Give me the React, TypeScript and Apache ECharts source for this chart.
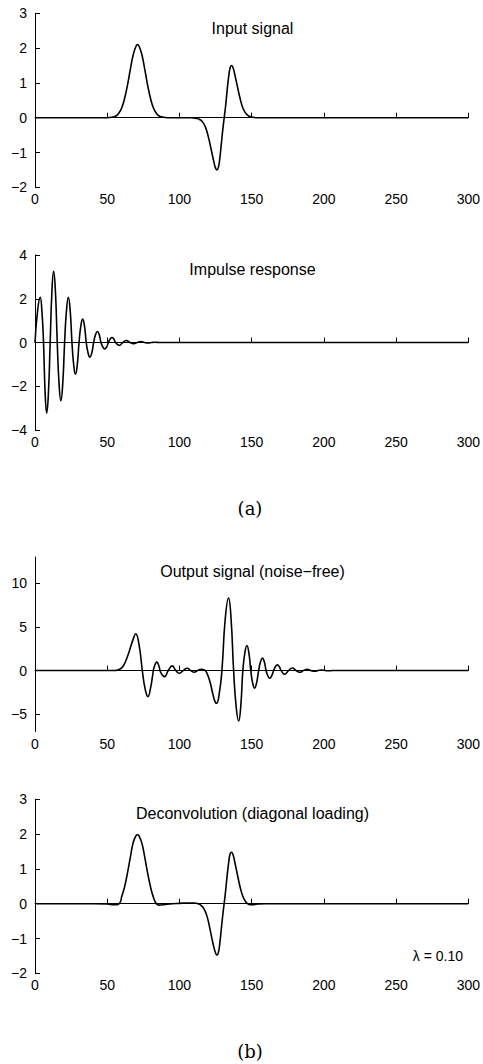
import React, { useEffect, useRef } from "react";
import * as echarts from "echarts";

// ---- data ----
const inputSignal: [number, number][] = [
  [0, 0], [50, 0], [54, 0.02], [56, 0.05], [58, 0.13], [60, 0.28], [62, 0.55], [64, 0.93], [66, 1.39],
  [68, 1.81], [70, 2.06], [71, 2.1], [72, 2.06], [74, 1.81], [76, 1.39], [78, 0.93], [80, 0.55],
  [82, 0.28], [84, 0.13], [86, 0.05], [88, 0.02], [92, 0], [108, 0], [112, -0.02], [114, -0.05],
  [116, -0.12], [118, -0.27], [120, -0.55], [122, -0.92], [124, -1.3], [125, -1.45], [126, -1.5],
  [127, -1.42], [128, -1.15], [129, -0.75], [130, -0.35], [131, 0], [132, 0.35], [133, 0.78],
  [134, 1.15], [135, 1.42], [136, 1.5], [137, 1.45], [138, 1.3], [140, 0.92], [142, 0.55],
  [144, 0.27], [146, 0.12], [148, 0.05], [150, 0.02], [154, 0], [300, 0],
];

const impulseResponse: [number, number][] = [
  [0, 0], [1.8, 1.46], [3.6, 2.07], [4.75, 1.47], [5.9, 0], [7.0, -2.29], [8.1, -3.23], [9.3, -2.29],
  [10.5, 0], [11.7, 2.31], [12.9, 3.25], [14.15, 2.31], [15.4, 0], [16.65, -1.89], [17.9, -2.66],
  [19.2, -1.89], [20.5, 0], [21.8, 1.47], [23.1, 2.07], [24.35, 1.47], [25.6, 0], [26.8, -1.03],
  [28, -1.45], [29.25, -1.03], [30.5, 0], [31.75, 0.76], [33, 1.07], [34.25, 0.76], [35.5, 0],
  [36.75, -0.48], [38, -0.67], [39.3, -0.48], [40.6, 0], [41.9, 0.36], [43.2, 0.5], [44.45, 0.36],
  [45.7, 0], [47, -0.21], [48.3, -0.29], [49.55, -0.21], [50.8, 0], [52.05, 0.16], [53.3, 0.23],
  [54.55, 0.16], [55.8, 0], [58.3, -0.13], [60.8, 0], [63.3, 0.09], [65.8, 0], [68.3, -0.05],
  [70.8, 0], [73.3, 0.04], [75.8, 0], [78.3, -0.02], [80.8, 0], [83.3, 0.01], [86, 0], [300, 0],
];

const outputSignal: [number, number][] = [
  [0, 0], [55, 0], [57, 0.05], [60, 0.3], [62, 0.8], [64, 1.6], [66, 2.6], [68, 3.6], [69.7, 4.21],
  [72, 2.99], [74.3, 0], [76.25, -2.1], [78.2, -2.98], [80, -2.0], [81.5, -0.5], [82.5, 0.4],
  [84.4, 0.96], [86, 0.4], [87, -0.2], [89.7, -0.69], [92.3, 0], [95, 0.54], [97.5, 0], [100, -0.3],
  [102.6, 0], [105.3, 0.27], [107.8, 0], [110.3, -0.19], [112.6, 0], [115, 0.15], [117.5, 0.05],
  [119, -0.3], [121, -1.2], [123, -2.6], [124.5, -3.5], [125.7, -3.75], [127.5, -2.7], [129.4, 0],
  [131.7, 5.9], [134, 8.31], [135.75, 5.9], [137.5, 0], [139.25, -4.1], [141, -5.78], [142.45, -4.1],
  [143.9, 0], [145.3, 2.04], [146.7, 2.87], [148.05, 2.04], [149.4, 0], [150.7, -1.43], [152, -2.02],
  [153.4, -1.43], [154.8, 0], [156.15, 1.0], [157.5, 1.42], [158.75, 1.0], [160, 0], [161.25, -0.62],
  [162.5, -0.88], [163.85, -0.62], [165.2, 0], [166.5, 0.46], [167.8, 0.65], [169.1, 0.46], [170.4, 0],
  [172.9, -0.42], [175.5, 0], [178.2, 0.3], [180.7, 0], [183.2, -0.2], [185.9, 0], [188.5, 0.13],
  [191, 0], [193.5, -0.08], [196, 0], [198.5, 0.05], [201, 0], [203.5, -0.03], [206, 0], [300, 0],
];

const deconvolution: [number, number][] = [
  [0, 0], [40, 0], [50, -0.01], [55, -0.03], [57, -0.03], [59, 0.04], [60, 0.2], [62, 0.48],
  [64, 0.88], [66, 1.33], [68, 1.76], [70, 1.96], [71, 1.98], [72, 1.95], [74, 1.74], [76, 1.33],
  [78, 0.88], [80, 0.48], [82, 0.18], [84, 0.0], [86, -0.04], [90, -0.02], [95, 0], [100, 0.01],
  [105, 0.02], [110, 0.02], [113, 0], [115, -0.05], [117, -0.15], [119, -0.35], [121, -0.7],
  [123, -1.1], [125, -1.42], [126, -1.48], [127, -1.4], [128, -1.12], [129, -0.72], [130, -0.33],
  [131, 0.02], [132, 0.38], [133, 0.8], [134, 1.15], [135, 1.42], [136, 1.48], [137, 1.42],
  [138, 1.26], [140, 0.86], [142, 0.48], [144, 0.2], [146, 0.05], [148, -0.02], [150, -0.03],
  [154, -0.01], [160, 0], [300, 0],
];

const titles = [
  "Input signal",
  "Impulse response",
  "Output signal (noise\u2212free)",
  "Deconvolution (diagonal loading)",
];
const xTicks = [0, 50, 100, 150, 200, 250, 300];
const yTicks1 = [-2, -1, 0, 1, 2, 3];
const yTicks2 = [-4, -2, 0, 2, 4];
const yTicks3 = [-5, 0, 5, 10];
const yTicks4 = [-2, -1, 0, 1, 2, 3];
const yRanges: [number, number][] = [[-2, 3], [-4, 4], [-7, 13], [-2, 3]];
const lambdaLabel = "\u03bb = 0.10";
const panelLabels = ["(a)", "(b)"];

const FONT = "'Liberation Sans', Arial, Helvetica, sans-serif";

export default function App() {
  const ref = useRef<HTMLDivElement>(null);
  useEffect(() => {
    if (!ref.current) return;
    const chart = echarts.init(ref.current, null, { renderer: "svg" });
    const grids = [
      { left: 35, top: 13.3, width: 435, height: 174 },
      { left: 35, top: 255, width: 435, height: 175 },
      { left: 35, top: 557, width: 435, height: 174.7 },
      { left: 35, top: 799.3, width: 435, height: 174 },
    ];
    const series = [inputSignal, impulseResponse, outputSignal, deconvolution];
    const yTicks = [yTicks1, yTicks2, yTicks3, yTicks4];
    const fmt = (v: number) => (v < 0 ? "\u2212" + Math.abs(v) : String(v));
    const axisLine = { show: true, lineStyle: { color: "#000", width: 1 } };
    const tick = { show: true, inside: true, length: 5, lineStyle: { color: "#000", width: 1 } };

    const option: any = {
      animation: false,
      backgroundColor: "#fff",
      grid: grids.map((g) => ({ ...g, containLabel: false })),
      xAxis: grids.map((_, i) => ({
        type: "value",
        gridIndex: i,
        min: 0,
        max: 300,
        interval: 50,
        axisLine,
        axisTick: { ...tick, customValues: xTicks },
        axisLabel: {
          customValues: xTicks,
          color: "#000",
          fontFamily: FONT,
          fontSize: 14,
          margin: 5,
          showMinLabel: true,
          showMaxLabel: true,
        },
        splitLine: { show: false },
      })),
      yAxis: grids.map((_, i) => ({
        type: "value",
        gridIndex: i,
        min: yRanges[i][0],
        max: yRanges[i][1],
        axisLine,
        axisTick: { ...tick, customValues: yTicks[i] },
        axisLabel: {
          customValues: yTicks[i],
          formatter: fmt,
          color: "#000",
          fontFamily: FONT,
          fontSize: 14,
          margin: 8,
        },
        splitLine: { show: false },
      })),
      series: series.map((d, i) => ({
        type: "line",
        xAxisIndex: i,
        yAxisIndex: i,
        data: d,
        smooth: 0.5,
        showSymbol: false,
        symbol: "none",
        lineStyle: { color: "#000", width: 1.6 },
        silent: true,
      })),
      graphic: [
        ...titles.map((t, i) => ({
          type: "text",
          x: 252.5,
          y: [28, 269, 571.7, 813.3][i],
          style: {
            text: t,
            fill: "#000",
            font: `16px ${FONT}`,
            textAlign: "center",
            textVerticalAlign: "middle",
          },
        })),
        {
          type: "text",
          x: 463,
          y: 956,
          style: {
            text: lambdaLabel,
            fill: "#000",
            font: `14px ${FONT}`,
            textAlign: "right",
            textVerticalAlign: "middle",
          },
        },
        ...panelLabels.map((t, i) => ({
          type: "text",
          x: 250,
          y: [508, 1051][i],
          style: {
            text: t,
            fill: "#000",
            font: `18px 'DejaVu Serif', serif`,
            textAlign: "center",
            textVerticalAlign: "middle",
          },
        })),
      ],
    };
    chart.setOption(option);
    return () => chart.dispose();
  }, []);
  return (
    <div
      ref={ref}
      style={{ position: "absolute", left: 0, top: 0, width: 483, height: 1064 }}
    />
  );
}
